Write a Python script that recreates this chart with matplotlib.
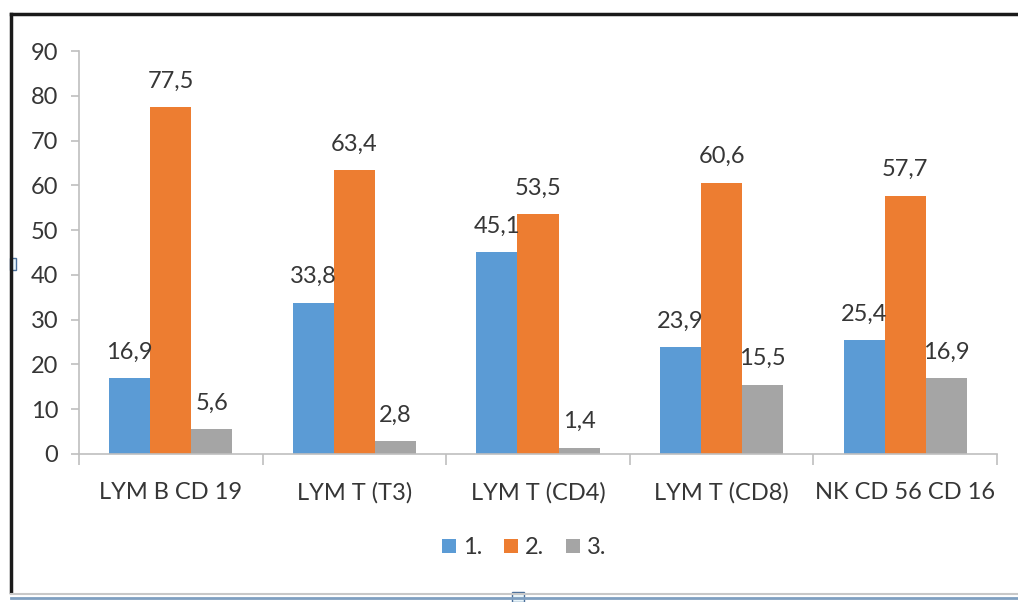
import numpy as np
import matplotlib.pyplot as plt
from matplotlib.patches import Rectangle, Patch
from matplotlib.lines import Line2D

categories = ["LYM B CD 19", "LYM T (T3)", "LYM T (CD4)", "LYM T (CD8)", "NK CD 56 CD 16"]
series_names = ["1.", "2.", "3."]
s1 = [16.9, 33.8, 45.1, 23.9, 25.4]
s2 = [77.5, 63.4, 53.5, 60.6, 57.7]
s3 = [5.6, 2.8, 1.4, 15.5, 16.9]
yticks = [0, 10, 20, 30, 40, 50, 60, 70, 80, 90]

colors = ["#5b9bd5", "#ed7d31", "#a5a5a5"]
txt = "#363636"
plt.rcParams['font.family'] = ['Lato', 'DejaVu Sans']

W, H = 1018, 602
fig = plt.figure(figsize=(W / 100, H / 100), dpi=100)
ax = fig.add_axes([79 / W, 148 / H, (997 - 79) / W, (551 - 148) / H])

x = np.arange(len(categories))
w = 0.224
for k, vals in enumerate([s1, s2, s3]):
    xs = x + (k - 1) * w
    ax.bar(xs, vals, w, color=colors[k], zorder=2)
    for xi, v in zip(xs, vals):
        ax.annotate(("%.1f" % v).replace(".", ","), (xi, v), xytext=(0, 14),
                    textcoords="offset points", ha="center", va="baseline",
                    fontsize=17, color=txt)

ax.set_xlim(-0.5, len(categories) - 0.5)
ax.set_ylim(0, 90)
ax.set_yticks(yticks)
ax.set_xticks(x)
ax.set_xticklabels(categories)
ax.set_xticks(np.arange(-0.5, len(categories)), minor=True)

for s in ["top", "right"]:
    ax.spines[s].set_visible(False)
for s in ["left", "bottom"]:
    ax.spines[s].set_color("#bfbfbf")
    ax.spines[s].set_linewidth(1.2)

ax.tick_params(axis="y", length=6, width=1.2, color="#bfbfbf", pad=9,
               labelsize=17, labelcolor=txt)
ax.tick_params(axis="x", which="major", length=0, pad=20, labelsize=17, labelcolor=txt)
ax.tick_params(axis="x", which="minor", length=8, width=1.2, color="#bfbfbf")

handles = [Patch(facecolor=c, edgecolor="none") for c in colors]
fig.legend(handles, series_names, loc="center", bbox_to_anchor=(0.515, 0.09), ncol=3,
           frameon=False, handlelength=0.6, handleheight=0.6, handletextpad=0.3,
           columnspacing=0.9, fontsize=17, labelcolor=txt)

# surrounding frame from the original screenshot
fig.add_artist(Line2D([11 / W, 1], [1 - 14 / H, 1 - 14 / H], color="#1a1a1a", lw=2.5,
                      transform=fig.transFigure))
fig.add_artist(Line2D([11 / W, 11 / W], [1 - 14 / H, 1 - 592 / H], color="#1a1a1a", lw=2.5,
                      transform=fig.transFigure))
fig.add_artist(Line2D([11 / W, 1], [1 - 594 / H, 1 - 594 / H], color="#c8c8c8", lw=1.5,
                      transform=fig.transFigure))
fig.add_artist(Line2D([11 / W, 1], [1 - 598 / H, 1 - 598 / H], color="#7f9fc0", lw=2,
                      transform=fig.transFigure))
fig.add_artist(Rectangle((512 / W, 1 - 602 / H), 12 / W, 10 / H, facecolor="#eaf6fb",
                         edgecolor="#4a6f9a", lw=1, transform=fig.transFigure))
fig.add_artist(Rectangle((10 / W, 1 - 270 / H), 6 / W, 12 / H, facecolor="#eaf6fb",
                         edgecolor="#4a6f9a", lw=1, transform=fig.transFigure))

fig.savefig("out.png", dpi=100)
